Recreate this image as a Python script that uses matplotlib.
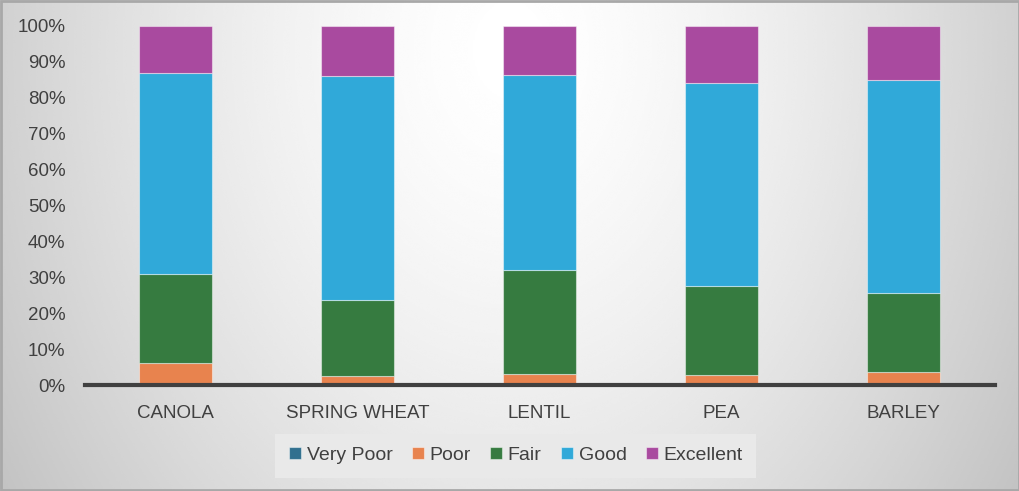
import numpy as np
import matplotlib
matplotlib.use('Agg')
import matplotlib.pyplot as plt
from matplotlib.patches import Rectangle

crops = ['CANOLA', 'SPRING WHEAT', 'LENTIL', 'PEA', 'BARLEY']
very_poor = [0.7, 0.0, 0.0, 0.0, 0.7]
poor = [5.5, 2.6, 3.3, 3.0, 3.05]
fair = [24.8, 21.15, 28.8, 24.6, 21.95]
good = [55.9, 62.15, 54.3, 56.5, 59.2]
excellent = [13.1, 14.1, 13.6, 15.9, 15.1]

series = [('Very Poor', very_poor, '#31708f'),
          ('Poor', poor, '#e8834e'),
          ('Fair', fair, '#367b40'),
          ('Good', good, '#30a9d9'),
          ('Excellent', excellent, '#a94a9f')]

plt.rcParams['font.family'] = ['Liberation Sans', 'DejaVu Sans']

fig = plt.figure(figsize=(10.2, 4.91), dpi=100)

# gradient background
bg = fig.add_axes([0, 0, 1, 1], zorder=-10)
yy, xx = np.mgrid[0:1:300j, 0:1:600j]
r = np.sqrt(((xx - 0.5) / 0.62) ** 2 + ((yy - 0.1) / 1.7) ** 2)
shade = 1.0 - 0.25 * np.clip(r, 0, 1.2) ** 1.5
bg.imshow(shade, cmap='gray', vmin=0, vmax=1, aspect='auto',
          extent=[0, 1, 1, 0], interpolation='bicubic')
bg.set_xlim(0, 1)
bg.set_ylim(1, 0)
bg.axis('off')
bg.add_patch(Rectangle((0.001, 0.002), 0.998, 0.996, fill=False,
                       edgecolor='#a8a8a8', linewidth=2, transform=bg.transAxes))

ax = fig.add_axes([0.0833, 0.2149, 0.8922, 0.7328])
ax.patch.set_alpha(0)
x = np.arange(len(crops))
bottom = np.zeros(len(crops))
for name, vals, col in series:
    vals = np.array(vals)
    ax.bar(x, vals, 0.4, bottom=bottom, color=col, label=name,
           edgecolor=(1, 1, 1, 0.45), linewidth=0.8)
    bottom += vals

ax.set_xlim(-0.495, 4.5)
ax.set_ylim(0, 100)
ax.set_yticks(np.arange(0, 101, 10))
ax.set_yticklabels([f'{v}%' for v in range(0, 101, 10)])
ax.set_xticks(x)
ax.set_xticklabels(crops)
for s in ['top', 'right', 'left']:
    ax.spines[s].set_visible(False)
ax.spines['bottom'].set_color('#404040')
ax.spines['bottom'].set_linewidth(3)
ax.tick_params(axis='both', length=0, labelsize=13.5, colors='#404040')
ax.tick_params(axis='y', pad=14)
ax.tick_params(axis='x', pad=14)

leg = ax.legend(loc='center', bbox_to_anchor=(0.4735, -0.195), ncol=5,
                frameon=True, fontsize=14, handlelength=0.6, handleheight=0.6,
                handletextpad=0.3, columnspacing=1.0, borderpad=0.7,
                fancybox=False)
leg.get_frame().set_facecolor('#e9e9e9')
leg.get_frame().set_edgecolor('none')
leg.get_frame().set_alpha(1)
for t in leg.get_texts():
    t.set_color('#404040')

fig.savefig('out.png', dpi=100)
